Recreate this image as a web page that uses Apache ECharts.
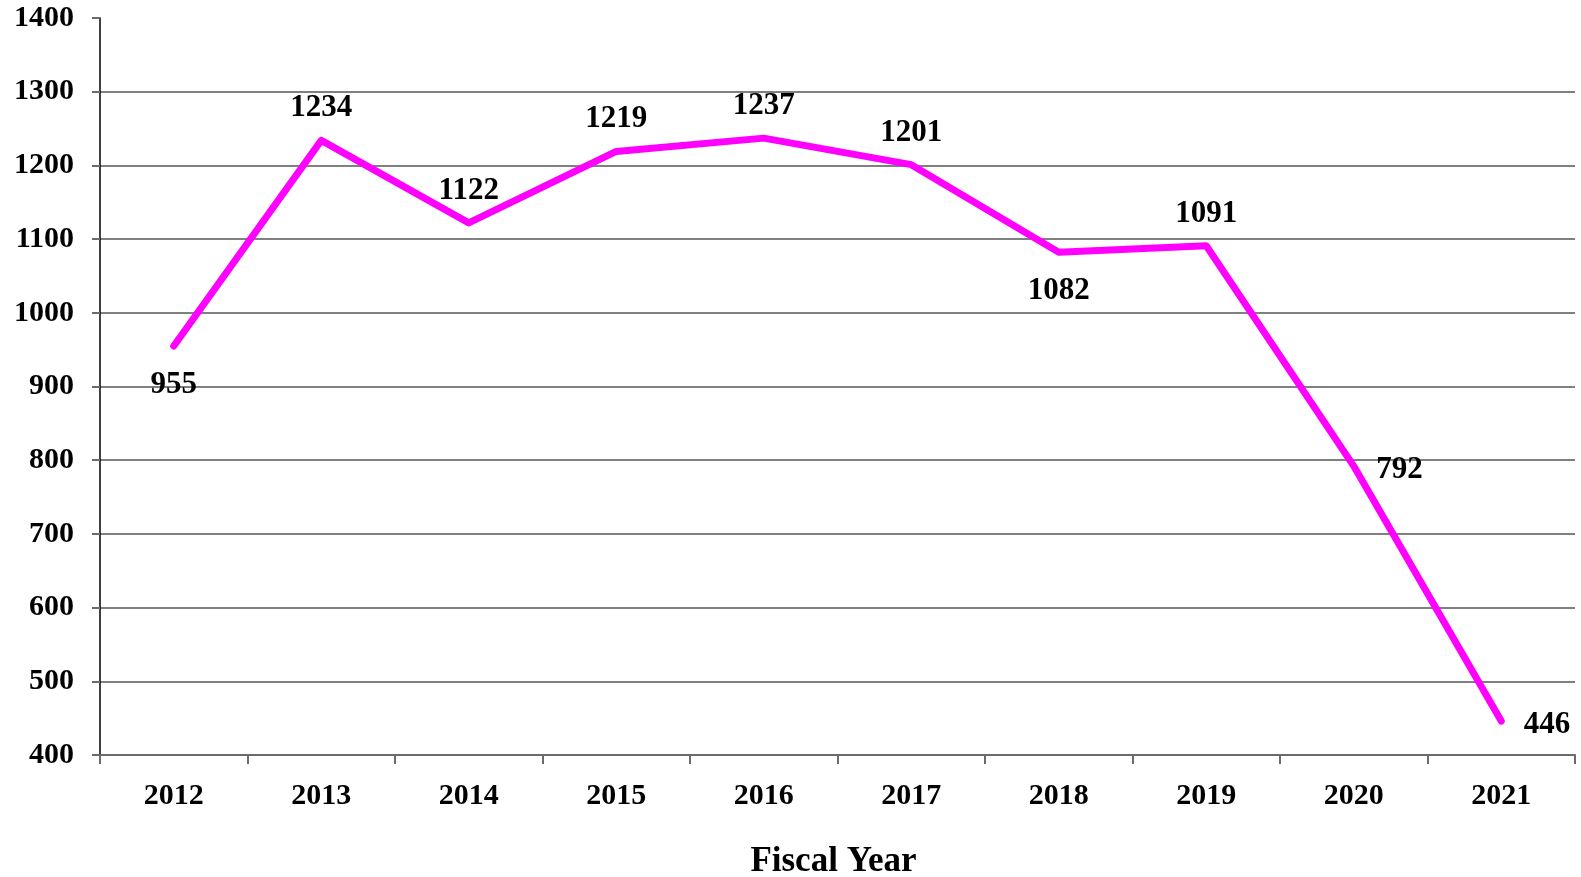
<!DOCTYPE html>
<html>
<head>
<meta charset="utf-8">
<script src="https://cdn.jsdelivr.net/npm/echarts@6/dist/echarts.min.js"></script>
<style>
  html, body { margin: 0; padding: 0; background: #fff; }
  #chart { width: 1581px; height: 877px; }
</style>
</head>
<body>
<div id="chart"></div>
<script>
var years = ['2012', '2013', '2014', '2015', '2016', '2017', '2018', '2019', '2020', '2021']
var counts = [955, 1234, 1122, 1219, 1237, 1201, 1082, 1091, 792, 446]
// where each value label sits relative to its point
var labelPos = ['bottom', 'top', 'top', 'top', 'top', 'top', 'bottom', 'top', 'right', 'right']

var font = '"Liberation Serif", "Times New Roman", serif'

var myChart = echarts.init(document.getElementById('chart'))

var points = counts.map(function (v, i) {
  var p = labelPos[i]
  var lbl = { position: p }
  if (p === 'right') {
    lbl.distance = 22
    lbl.offset = [0, 4]
  } else if (p === 'bottom') {
    lbl.distance = 23
  } else {
    lbl.distance = 16
  }
  return { value: v, label: lbl }
})

// no gridline at the top value (1400), only its tick
var gridColors = ['#808080', '#808080', '#808080', '#808080', '#808080', '#808080',
  '#808080', '#808080', '#808080', '#808080', 'rgba(0,0,0,0)']

var option = {
  animation: false,
  grid: { left: 100, right: 6, top: 18, bottom: 122, outerBoundsMode: 'none' },
  xAxis: {
    type: 'category',
    data: years,
    boundaryGap: true,
    name: 'Fiscal Year',
    nameLocation: 'middle',
    nameGap: 89,
    nameTextStyle: { fontFamily: font, fontWeight: 'bold', fontSize: 35, color: '#000', padding: [0, 8, 0, 0] },
    axisLine: { lineStyle: { color: '#6b6b6b', width: 2 } },
    axisTick: { show: true, length: 9, lineStyle: { color: '#6b6b6b', width: 2 } },
    axisLabel: { fontFamily: font, fontWeight: 'bold', fontSize: 30, color: '#000', margin: 26 },
    splitLine: { show: false }
  },
  yAxis: {
    type: 'value',
    min: 400,
    max: 1400,
    interval: 100,
    axisLine: { show: true, lineStyle: { color: '#000', width: 1.5 } },
    axisTick: { show: true, length: 8, lineStyle: { color: '#6b6b6b', width: 2 } },
    axisLabel: {
      fontFamily: font, fontWeight: 'bold', fontSize: 30, color: '#000', margin: 26,
      formatter: function (v) { return String(v) }
    },
    splitLine: { show: true, lineStyle: { color: gridColors, width: 2 } }
  },
  series: [{
    type: 'line',
    data: points,
    symbol: 'circle',
    symbolSize: 1,
    showSymbol: true,
    lineStyle: { color: '#ff00ff', width: 7, cap: 'round', join: 'round' },
    itemStyle: { color: '#ff00ff' },
    label: {
      show: true,
      fontFamily: font,
      fontWeight: 'bold',
      fontSize: 31,
      color: '#000'
    }
  }]
}

myChart.setOption(option)
</script>
</body>
</html>
